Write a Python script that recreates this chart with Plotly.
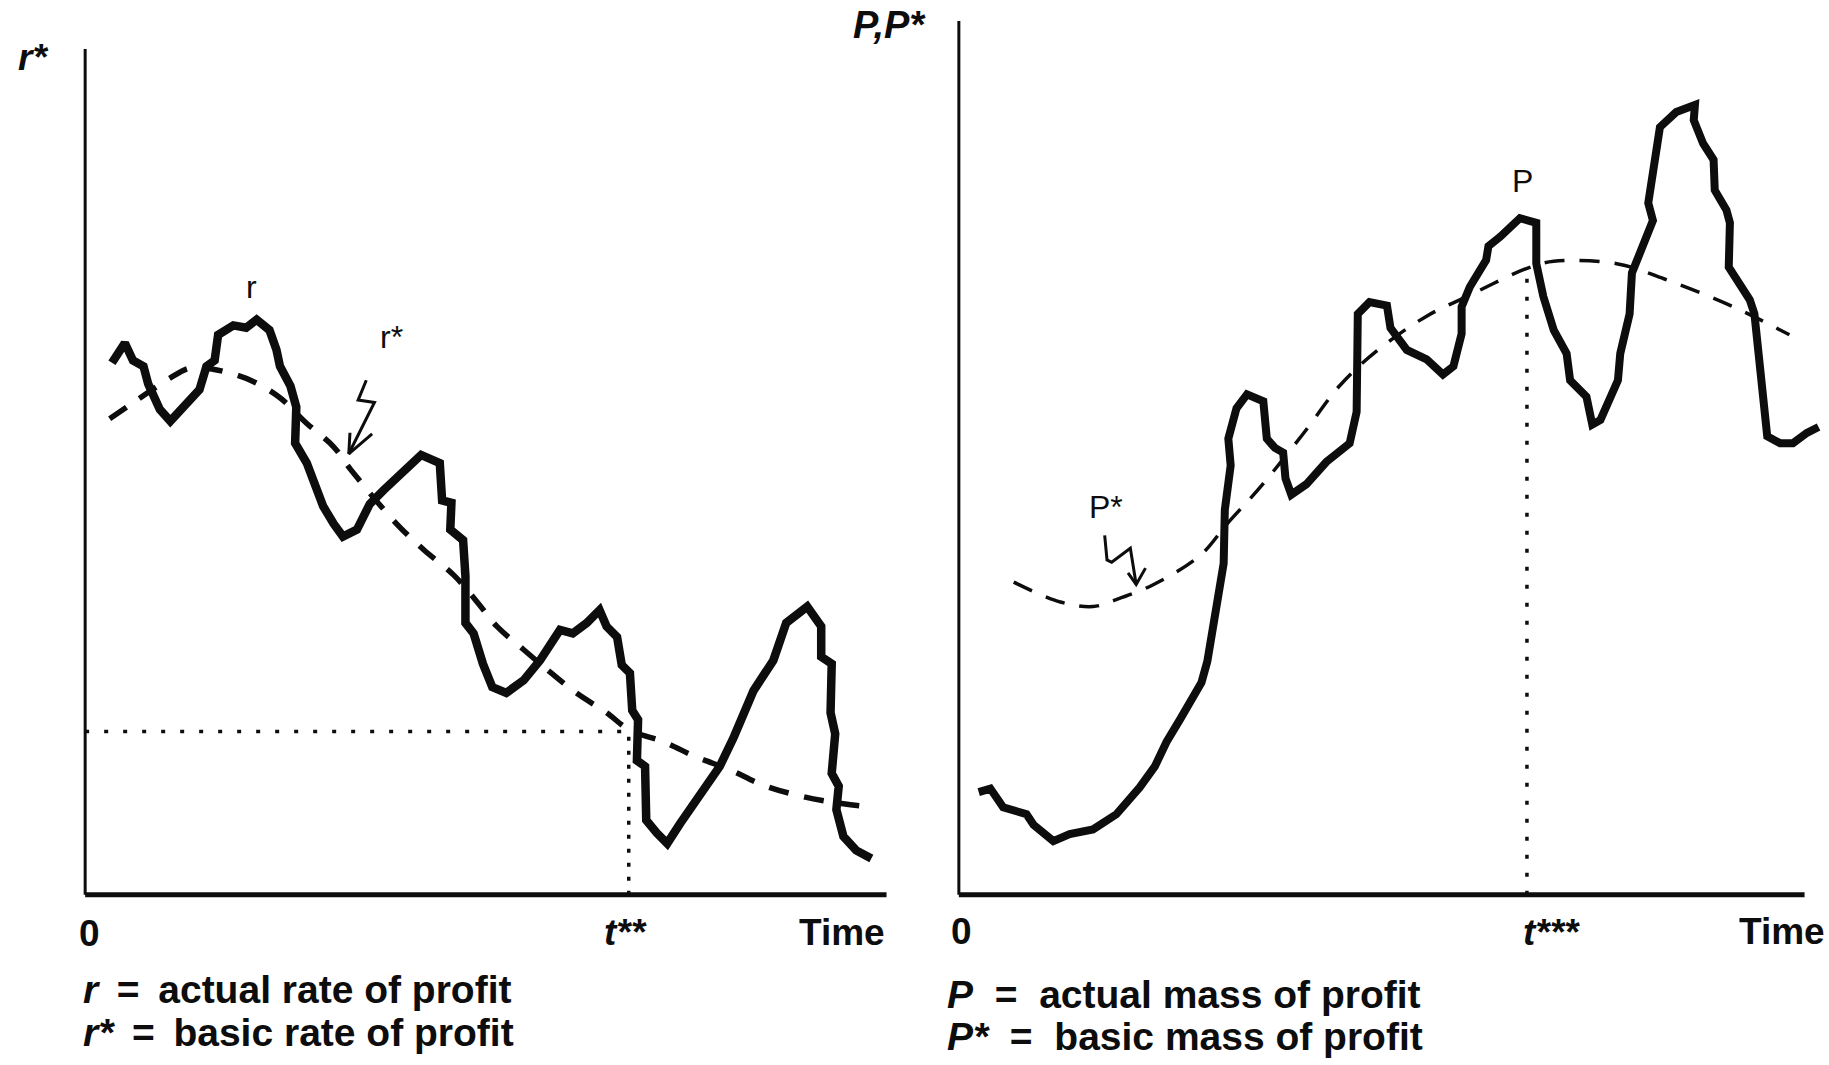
import plotly.graph_objects as go

# ---------------- data (schematic units: time / value) ----------------
# Left panel: actual rate of profit r and basic rate r*
r_time = [23, 34, 41, 50, 54, 64, 73, 84, 98, 104, 111, 114, 127, 138, 147, 158, 164, 167, 176, 181,
          180, 190, 198, 204, 213, 221, 233, 244, 256, 276, 288, 304, 306, 314, 313, 324, 326, 326, 333, 341,
          349, 361, 376, 390, 407, 418, 430, 441, 447, 456, 460, 467, 469, 474, 473, 480, 481, 490, 499, 510,
          527, 544, 556, 573, 590, 601, 619, 631, 631, 640, 639, 643, 640, 646, 644, 650, 661, 674]
r_vals = [456, 473, 458, 453, 438, 416, 406, 418, 433, 453, 458, 480, 488, 486, 493, 484, 467, 453, 436, 418,
          387, 370, 347, 333, 318, 307, 313, 335, 347, 367, 377, 370, 338, 336, 313, 304, 273, 233, 224, 198,
          178, 173, 184, 201, 227, 224, 233, 244, 230, 221, 197, 190, 158, 150, 115, 110, 64, 53, 44, 61,
          84, 110, 135, 175, 201, 233, 247, 230, 204, 198, 156, 138, 104, 93, 73, 50, 38, 31]

rstar_time = [21, 40, 73, 88, 98, 121, 144, 167, 190, 213, 228, 267, 290, 316, 336, 353, 376, 396, 421, 447,
              467, 496, 524, 553, 581, 616, 650, 676]
rstar_vals = [408, 421, 443, 451, 452, 448, 440, 426, 404, 384, 364, 318, 296, 274, 251, 230, 210, 193, 173, 156,
              141, 131, 118, 107, 94, 84, 78, 75]

t_star2 = 466        # t**
r_level = 140        # level of r* at t**

# Right panel: actual mass of profit P and basic mass P*
P_time = [17, 27, 38, 58, 64, 81, 95, 115, 135, 155, 168, 178, 190, 201, 208, 213, 218, 227, 228, 233,
          231, 238, 247, 261, 264, 271, 278, 280, 285, 298, 315, 335, 341, 342, 342, 352, 367, 370, 384, 401,
          415, 424, 431, 431, 438, 452, 454, 464, 475, 481, 495, 495, 501, 510, 521, 524, 538, 543, 550, 555,
          565, 567, 575, 577, 590, 595, 591, 601, 615, 631, 630, 638, 647, 648, 658, 661, 660, 678, 682, 687,
          691, 693, 704, 715, 727, 737]
P_vals = [88, 91, 75, 69, 60, 46, 52, 56, 69, 92, 110, 131, 151, 169, 182, 200, 230, 284, 330, 368,
          391, 417, 429, 423, 391, 383, 379, 357, 343, 352, 371, 387, 414, 460, 498, 508, 505, 486, 467, 459,
          446, 453, 481, 504, 521, 544, 556, 564, 574, 580, 576, 541, 513, 484, 464, 441, 427, 403, 407, 418,
          441, 464, 498, 533, 567, 578, 593, 658, 671, 677, 664, 644, 630, 604, 587, 576, 538, 510, 498, 450,
          413, 393, 387, 387, 396, 401]

Pstar_time = [47, 87, 115, 135, 167, 207, 230, 258, 295, 327, 358, 401, 438, 487, 510, 564, 607, 664, 712]
Pstar_vals = [268, 251, 247, 253, 266, 291, 318, 349, 395, 437, 466, 496, 514, 537, 543, 541, 527, 504, 480]

t_star3 = 487        # t***
P_level = 537        # level of P* at t***

left_axis_len = [687, 725]
right_axis_len = [725, 749]

# squiggle pointer arrows (label -> curve)
r_arrow_x = [241, 234, 248, 226]
r_arrow_y = [441, 424, 422, 378]
r_head_x = [246, 226, 227]
r_head_y = [395, 378, 396]
P_arrow_x = [125, 127, 131, 147, 152]
P_arrow_y = [308, 287, 285, 297, 266]
P_head_x = [145, 152, 160]
P_head_y = [276, 266, 280]

# ---------------- figure ----------------
W, H = 1829, 1065
INK = "#0d0d0d"
FONT = "Liberation Sans"

fig = go.Figure()


def line(x, y, ax, width, dash="solid", shape="linear", color=INK):
    xa, ya = ("x", "y") if ax == 1 else ("x2", "y2")
    fig.add_trace(go.Scatter(x=x, y=y, mode="lines", xaxis=xa, yaxis=ya,
                             line=dict(color=color, width=width, dash=dash, shape=shape),
                             hoverinfo="skip", showlegend=False))


# left panel
line([0, 0], [0, left_axis_len[1]], 1, 3)
line([0, left_axis_len[0]], [0, 0], 1, 5)
line([0, t_star2], [r_level, r_level], 1, 3.5, dash="4px,15px")
line([t_star2, t_star2], [0, r_level], 1, 3.5, dash="4px,10px")
line(rstar_time, rstar_vals, 1, 5.5, dash="20px,16px", shape="spline")
line(r_time, r_vals, 1, 8.5)
line(r_arrow_x, r_arrow_y, 1, 3)
line(r_head_x, r_head_y, 1, 3)

# right panel
line([0, 0], [0, right_axis_len[1]], 2, 3)
line([0, right_axis_len[0]], [0, 0], 2, 5)
line([t_star3, t_star3], [0, P_level], 2, 3.5, dash="4px,14px")
line(Pstar_time, Pstar_vals, 2, 3.5, dash="20px,15px", shape="spline")
line(P_time, P_vals, 2, 8)
line(P_arrow_x, P_arrow_y, 2, 3)
line(P_head_x, P_head_y, 2, 3)


def px(x, y):
    return x / W, 1 - y / H


annotations = []


def label(text, x, y, size, xanchor="center", weight="bold"):
    ax_, ay_ = px(x, y)
    annotations.append(dict(text=text, x=ax_, y=ay_, xref="paper", yref="paper",
                            xanchor=xanchor, yanchor="middle", showarrow=False,
                            font=dict(family=FONT, size=size, color=INK, weight=weight)))


# axis titles
label("<i>r*</i>", 33, 57, 37)
label("<i>P,P*</i>", 889, 25, 38)
# x-axis labels
label("0", 89, 933, 37)
label("<i>t**</i>", 625, 932, 37)
label("Time", 842, 932, 37)
label("0", 962, 931, 37)
label("<i>t***</i>", 1521, 932, 37, xanchor="left")
label("Time", 1782, 931, 37)
# key
label("<i>r</i>&#8201; = &#8201;actual rate of profit", 81, 989, 39, xanchor="left")
label("<i>r*</i>&#8201; = &#8201;basic rate of profit", 81, 1032, 39, xanchor="left")
label("<i>P</i>&nbsp; = &nbsp;actual mass of profit", 945, 994, 39, xanchor="left")
label("<i>P*</i>&nbsp; = &nbsp;basic mass of profit", 945, 1036, 39, xanchor="left")
# curve labels
label("r", 251, 287, 32, weight="normal")
label("r*", 391, 337, 32, weight="normal")
label("P", 1522, 181, 32, weight="normal")
label("P*", 1106, 507, 32, weight="normal")

hidden = dict(visible=False, showgrid=False, zeroline=False, fixedrange=True)
fig.update_layout(
    width=W, height=H, autosize=False,
    margin=dict(l=0, r=0, t=0, b=0),
    paper_bgcolor="white", plot_bgcolor="white",
    showlegend=False,
    xaxis=dict(domain=[0.040186, 0.493002], range=[-10, 700], anchor="y", **hidden),
    yaxis=dict(domain=[0.148920, 0.964977], range=[-10, 735], anchor="x", **hidden),
    xaxis2=dict(domain=[0.517879, 0.999399], range=[-10, 745], anchor="y2", **hidden),
    yaxis2=dict(domain=[0.148920, 0.992300], range=[-10, 760], anchor="x2", **hidden),
    annotations=annotations,
)

fig.write_html("out.html", config=dict(displayModeBar=False))
